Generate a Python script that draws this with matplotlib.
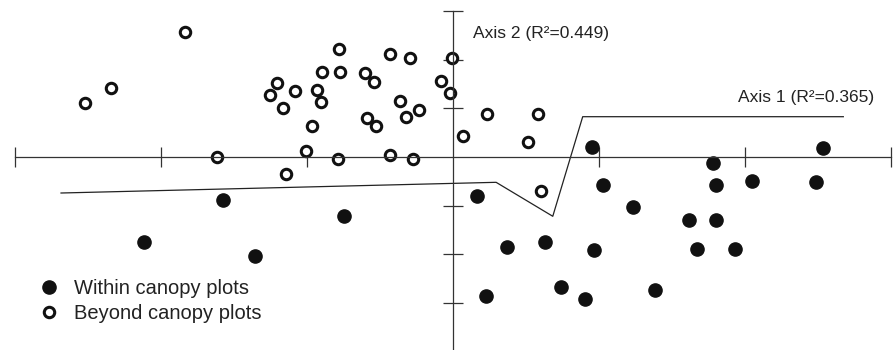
import matplotlib
matplotlib.use('Agg')
import numpy as np
import matplotlib.pyplot as plt

plt.rcParams['font.family'] = ['Liberation Sans', 'DejaVu Sans']

# Беспологовые (открытые) точки
beyond_x = [-2.518, -2.342, -1.834, -0.781, -0.434, -0.297, -0.005, -0.897, -0.772,
            -0.603, -0.539, -1.205, -1.082, -0.932, -1.255, -0.902, -1.166, -0.365,
            -0.233, -0.322, -0.591, -0.529, -0.968, -0.082, -0.021, -1.614, -1.007,
            -0.786, -0.434, -0.272, -1.144, 0.071, 0.233, 0.582, 0.512, 0.601]
beyond_y = [1.105, 1.414, 2.566, 2.216, 2.119, 2.031, 2.031, 1.755, 1.749,
            1.735, 1.543, 1.529, 1.364, 1.379, 1.270, 1.138, 1.014, 1.158,
            0.961, 0.817, 0.809, 0.632, 0.638, 1.570, 1.311, 0.006, 0.123,
            -0.041, 0.041, -0.047, -0.350, 0.438, 0.879, 0.891, 0.315, -0.706]

# Точки под пологом (закрашенные)
within_x = [-1.577, -0.747, -2.116, -1.354, 0.166, 1.025, 1.803, 2.048, 2.484,
            1.231, 1.618, 1.803, 0.372, 0.630, 0.964, 1.671, 1.934, 0.226,
            0.738, 0.906, 1.384, 0.950, 1.781, 2.532]
within_y = [-0.891, -1.220, -1.755, -2.031, -0.796, -0.576, -0.576, -0.494, -0.521,
            -1.029, -1.296, -1.296, -1.852, -1.755, -1.914, -1.893, -1.893, -2.854,
            -2.669, -2.916, -2.730, 0.212, -0.130, 0.179]

# Линия оси 1
axis1_x = [-2.685, 0.295, 0.683, 0.888, 2.673]
axis1_y = [-0.741, -0.521, -1.220, 0.829, 0.829]

ticks = [-3, -2, -1, 1, 2, 3]

fig = plt.figure(figsize=(8.95, 3.5), dpi=100)
ax = fig.add_axes([0, 0, 1, 1])
ax.set_xlim(-3.103, 3.027)
ax.set_ylim(-3.971, 3.230)

# Оси через начало координат
ax.spines['left'].set_position(('data', 0))
ax.spines['bottom'].set_position(('data', 0))
ax.spines['right'].set_visible(False)
ax.spines['top'].set_visible(False)
ax.spines['bottom'].set_bounds(-3, 3)
ax.spines['left'].set_bounds(-3.971, 3)
for s in ('left', 'bottom'):
    ax.spines[s].set_color('#333333')
    ax.spines[s].set_linewidth(0.9)
ax.set_xticks(ticks)
ax.set_yticks(ticks)
ax.tick_params(direction='inout', length=14, width=0.9, color='#333333',
               labelbottom=False, labelleft=False)

ax.plot(axis1_x, axis1_y, color='#222222', lw=0.9)

ax.plot(within_x, within_y, 'o', ms=9.5, color='#111111', mec='#111111',
        linestyle='none', label='Within canopy plots')
ax.plot(beyond_x, beyond_y, 'o', ms=7.5, mfc='white', mec='#111111', mew=2.2,
        linestyle='none', label='Beyond canopy plots')

ax.text(0.137, 2.55, 'Axis 2 (R²=0.449)', fontsize=12.5, color='#222222', va='center')
ax.text(1.95, 1.214, 'Axis 1 (R²=0.365)', fontsize=12.5, color='#222222', va='center')

ax.legend(loc='center left', bbox_to_anchor=(0.034, 0.14), frameon=False,
          fontsize=14.5, handletextpad=0.75, labelspacing=0.3, borderaxespad=0,
          handlelength=1.0, labelcolor='#222222')

fig.savefig('out.png', dpi=100)
